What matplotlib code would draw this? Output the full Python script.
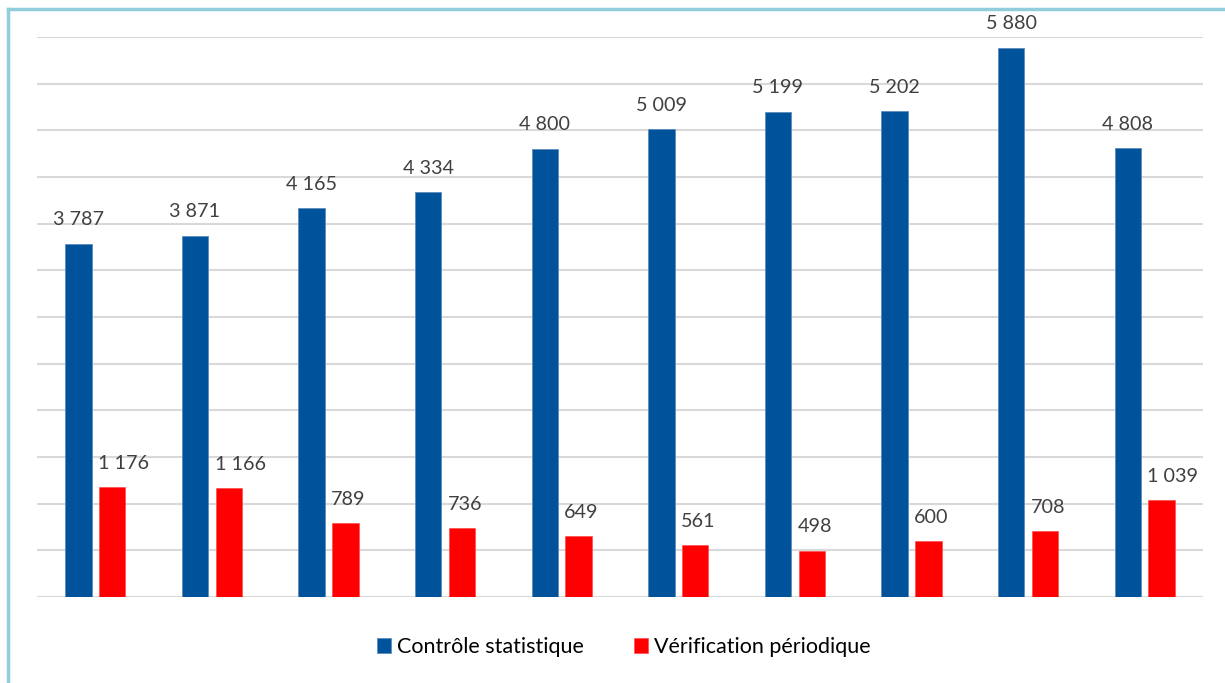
import matplotlib
matplotlib.use("Agg")
import matplotlib.pyplot as plt
import numpy as np
from matplotlib.lines import Line2D

categories = list(range(10))
controle = [3787, 3871, 4165, 4334, 4800, 5009, 5199, 5202, 5880, 4808]
verif = [1176, 1166, 789, 736, 649, 561, 498, 600, 708, 1039]
series_names = ["Contrôle statistique", "Vérification périodique"]

W, H = 1225, 683
fig = plt.figure(figsize=(W/100, H/100), dpi=100)
plt.rcParams['font.family'] = ['Lato', 'DejaVu Sans']

ax = fig.add_axes([37/W, (H-597)/H, (1203-37)/W, (597-37)/H])
x = np.arange(len(categories))
bw = 0.228
off = 0.145
blue = '#00529B'
red = '#FF0000'
b1 = ax.bar(x - off, controle, bw, color=blue, edgecolor='#5B8DC0', linewidth=0.6, label=series_names[0], zorder=3)
b2 = ax.bar(x + off, verif, bw, color=red, edgecolor='#FF4040', linewidth=0.4, label=series_names[1], zorder=3)

def fmt(v):
    return f"{v:,}".replace(",", " ")

for xi, v in zip(x - off, controle):
    ax.annotate(fmt(v), (xi, v), xytext=(0, 13.5), textcoords='offset points',
                ha='center', va='baseline', fontsize=14.2, color='#404040')
for xi, v in zip(x + off, verif):
    ax.annotate(fmt(v), (xi - bw/2, v), xytext=(-0.7, 13), textcoords='offset points',
                ha='left', va='baseline', fontsize=14.2, color='#404040')

ax.set_xlim(-0.5, len(categories) - 0.5)
ax.set_ylim(0, 6000)
ax.set_yticks(np.arange(0, 6001, 500))
ax.yaxis.grid(True, color='#D9D9D9', linewidth=1.5, zorder=0)
ax.set_axisbelow(True)
ax.tick_params(left=False, bottom=False, labelleft=False, labelbottom=False)
for s in ax.spines.values():
    s.set_visible(False)

leg = fig.legend(handles=[b1, b2], labels=series_names, loc='center',
                 bbox_to_anchor=(624/W, (H-647)/H), ncol=2, frameon=False,
                 fontsize=15.5, handlelength=0.65, handleheight=0.65,
                 handletextpad=0.3, columnspacing=2.3)
for t in leg.get_texts():
    t.set_color('#000000')

fig.add_artist(Line2D([7.5/W, 7.5/W], [0, (H-8.5)/H], color='#92CDDC', linewidth=2.5, transform=fig.transFigure))
fig.add_artist(Line2D([7.5/W, 1], [(H-8.5)/H, (H-8.5)/H], color='#92CDDC', linewidth=2.5, transform=fig.transFigure))

fig.savefig("out.png", dpi=100, facecolor='white')
